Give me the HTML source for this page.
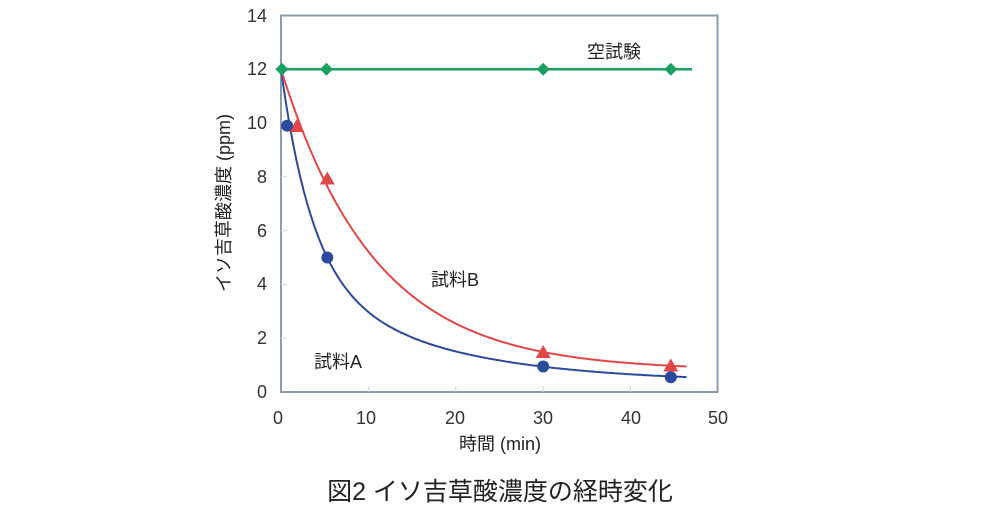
<!DOCTYPE html>
<html><head><meta charset="utf-8"><style>
html,body{margin:0;padding:0;background:#fff;}
svg{display:block;font-family:"Liberation Sans","Noto Sans CJK JP",sans-serif;}
</style></head><body>
<svg id="s" width="1000" height="521" viewBox="0 0 1000 521">
<rect x="281" y="15.5" width="436.5" height="376.5" fill="none" stroke="#8d9cac" stroke-width="2"/>
<g stroke="#d0d6dc" stroke-width="1">
<line x1="368.4" y1="392" x2="368.4" y2="386"/><line x1="455.8" y1="392" x2="455.8" y2="386"/>
<line x1="543.2" y1="392" x2="543.2" y2="386"/><line x1="630.6" y1="392" x2="630.6" y2="386"/>
<line x1="281" y1="338.2" x2="287" y2="338.2"/><line x1="281" y1="284.4" x2="287" y2="284.4"/>
<line x1="281" y1="230.6" x2="287" y2="230.6"/><line x1="281" y1="176.8" x2="287" y2="176.8"/>
<line x1="281" y1="123" x2="287" y2="123"/><line x1="281" y1="69.3" x2="287" y2="69.3"/>
</g>
<g font-size="18" fill="#333" text-anchor="end">
<text x="267" y="398">0</text><text x="267" y="344">2</text><text x="267" y="290">4</text>
<text x="267" y="237">6</text><text x="267" y="183">8</text><text x="267" y="129">10</text>
<text x="267" y="75">12</text><text x="267" y="22">14</text>
</g>
<g font-size="18" fill="#333" text-anchor="middle">
<text x="278" y="424">0</text><text x="366" y="424">10</text><text x="455" y="424">20</text>
<text x="543" y="424">30</text><text x="631" y="424">40</text><text x="718" y="424">50</text>
</g>
<text x="500" y="450" font-size="18" fill="#222" text-anchor="middle">時間 (min)</text>
<text transform="translate(230,203) rotate(-90)" font-size="18" fill="#222" text-anchor="middle">イソ吉草酸濃度 (ppm)</text>
<text x="500" y="500" font-size="25" fill="#222" text-anchor="middle">図2  イソ吉草酸濃度の経時変化</text>
<text x="614" y="58" font-size="18" fill="#222" text-anchor="middle">空試験</text>
<text x="455" y="286" font-size="18" fill="#222" text-anchor="middle">試料B</text>
<text x="338" y="368" font-size="18" fill="#222" text-anchor="middle">試料A</text>
<line x1="281" y1="69.3" x2="692" y2="69.3" stroke="#1aa060" stroke-width="2.5"/>
<path id="blue" fill="none" stroke="#2b4a9b" stroke-width="2"/>
<path id="red" fill="none" stroke="#e04848" stroke-width="2"/>
<g id="m"></g>
</svg>
<script>
function X(t){return 281+t*8.74;}function Y(v){return 392-v*26.9;}
function path(f){var d="";for(var t=0;t<=46.6;t+=0.2){d+=(t==0?"M":"L")+X(t).toFixed(1)+","+Y(f(t)).toFixed(1);}return d;}
document.getElementById("blue").setAttribute("d",path(function(t){return 0.35+7.5*Math.exp(-0.28*t)+4.15*Math.exp(-0.065*t);}));
document.getElementById("red").setAttribute("d",path(function(t){return 0.8+11.2*Math.exp(-0.093*t);}));
var g=document.getElementById("m"),h="";
[[0.1,12],[5.2,12],[30,12],[44.6,12]].forEach(function(p){var x=X(p[0]),y=Y(p[1]);h+='<polygon points="'+x+','+(y-6.5)+' '+(x+6.5)+','+y+' '+x+','+(y+6.5)+' '+(x-6.5)+','+y+'" fill="#1aa060"/>';});
[[1.8,9.85],[5.3,7.9],[30,1.45],[44.6,0.95]].forEach(function(p){var x=X(p[0]),y=Y(p[1]);h+='<polygon points="'+x+','+(y-8)+' '+(x+7.5)+','+(y+5)+' '+(x-7.5)+','+(y+5)+'" fill="#e04848"/>';});
[[0.7,9.9],[5.3,5],[30,0.95],[44.6,0.55]].forEach(function(p){h+='<circle cx="'+X(p[0])+'" cy="'+Y(p[1])+'" r="6" fill="#2b4a9b"/>';});
g.innerHTML=h;
</script>
</body></html>
